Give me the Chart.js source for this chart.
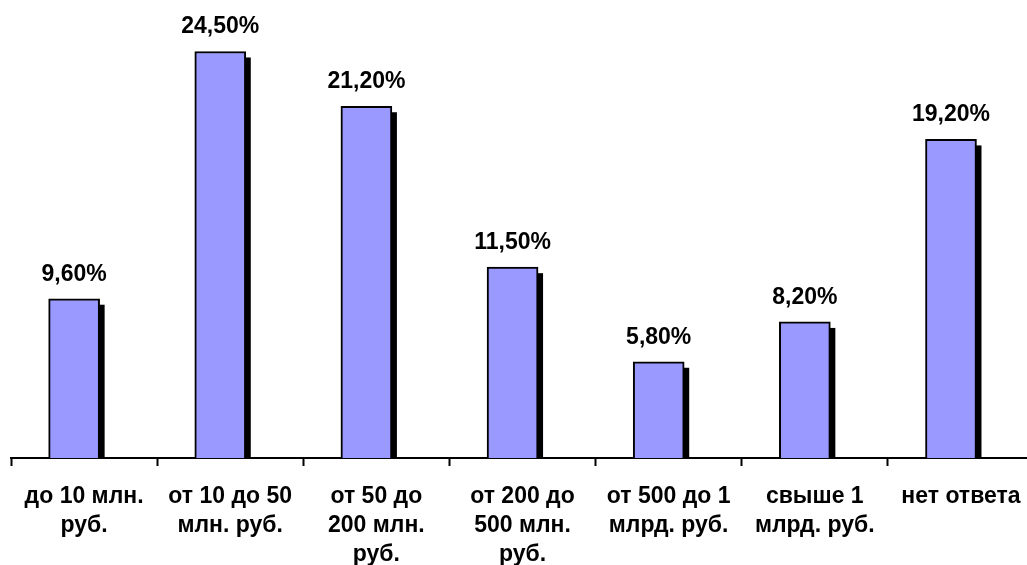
<!DOCTYPE html>
<html>
<head>
<meta charset="utf-8">
<script src="https://cdn.jsdelivr.net/npm/chart.js@4/dist/chart.umd.min.js"></script>
<style>
  html, body { margin: 0; padding: 0; background: #fff; overflow: hidden; }
  #wrap { width: 1044px; height: 565px; }
</style>
</head>
<body>
<div id="wrap"><canvas id="c" width="1044" height="565"></canvas></div>
<script>
// Categories (turnover brackets) and share of respondents, %
const categories = [
  ['до 10 млн.', 'руб.'],
  ['от 10 до 50', 'млн. руб.'],
  ['от 50 до', '200 млн.', 'руб.'],
  ['от 200 до', '500 млн.', 'руб.'],
  ['от 500 до 1', 'млрд. руб.'],
  ['свыше 1', 'млрд. руб.'],
  ['нет ответа']
];
const shares = [9.6, 24.5, 21.2, 11.5, 5.8, 8.2, 19.2];

const FONT = '"Liberation Sans", Arial, Helvetica, sans-serif';
const BAR_SHIFT = -0.068;   // bars sit slightly left of the category centre

const formatPct = v => v.toFixed(2).replace('.', ',') + '%';

// Black drop shadow behind each bar
const barShadow = {
  id: 'barShadow',
  beforeDatasetsDraw(chart) {
    const ctx = chart.ctx;
    const area = chart.chartArea;
    chart.getDatasetMeta(0).data.forEach(bar => {
      const w = bar.width;
      const left = bar.x - w / 2 + 5;
      const top = bar.y + 6;
      const h = bar.base - top;
      if (h <= 0) return;
      ctx.save();
      ctx.beginPath();
      ctx.rect(area.left, area.top - 20, area.right - area.left, area.bottom - area.top + 20);
      ctx.clip();
      ctx.fillStyle = '#000';
      ctx.fillRect(left, top, w, h);
      ctx.restore();
    });
  }
};

// Value labels above bars
const valueLabels = {
  id: 'valueLabels',
  afterDatasetsDraw(chart) {
    const ctx = chart.ctx;
    ctx.save();
    ctx.font = 'bold 23px ' + FONT;
    ctx.fillStyle = '#000';
    ctx.textAlign = 'center';
    ctx.textBaseline = 'alphabetic';
    chart.getDatasetMeta(0).data.forEach((bar, i) => {
      ctx.fillText(formatPct(shares[i]), bar.x, bar.y - 18);
    });
    ctx.restore();
  }
};

new Chart(document.getElementById('c'), {
  type: 'bar',
  data: {
    labels: categories,
    datasets: [{
      data: shares.map((v, i) => ({ x: i + BAR_SHIFT, y: v })),
      xAxisID: 'xb',
      backgroundColor: '#9999FF',
      borderColor: '#000',
      borderWidth: 2,
      borderSkipped: 'bottom',
      barThickness: 51
    }]
  },
  options: {
    responsive: false,
    animation: false,
    layout: { padding: { left: 11, right: 10, top: 10, bottom: 0 } },
    plugins: { legend: { display: false }, tooltip: { enabled: false } },
    scales: {
      xb: {
        type: 'linear',
        display: false,
        offset: false,
        bounds: 'data',
        grace: 0,
        min: -0.5,
        max: 6.5
      },
      x: {
        type: 'category',
        position: 'bottom',
        offset: true,
        afterFit(scale) { scale.height = 107; },
        grid: {
          offset: true,
          drawOnChartArea: false,
          drawTicks: true,
          tickLength: 8,
          tickWidth: 2,
          tickColor: '#000'
        },
        border: { display: true, color: '#000', width: 2 },
        ticks: {
          autoSkip: false,
          maxRotation: 0,
          padding: 16,
          color: '#000',
          font: { family: FONT, size: 23, weight: 'bold', lineHeight: 1.27 }
        }
      },
      y: {
        display: false,
        min: 0,
        max: 27
      }
    }
  },
  plugins: [barShadow, valueLabels]
});
</script>
</body>
</html>
